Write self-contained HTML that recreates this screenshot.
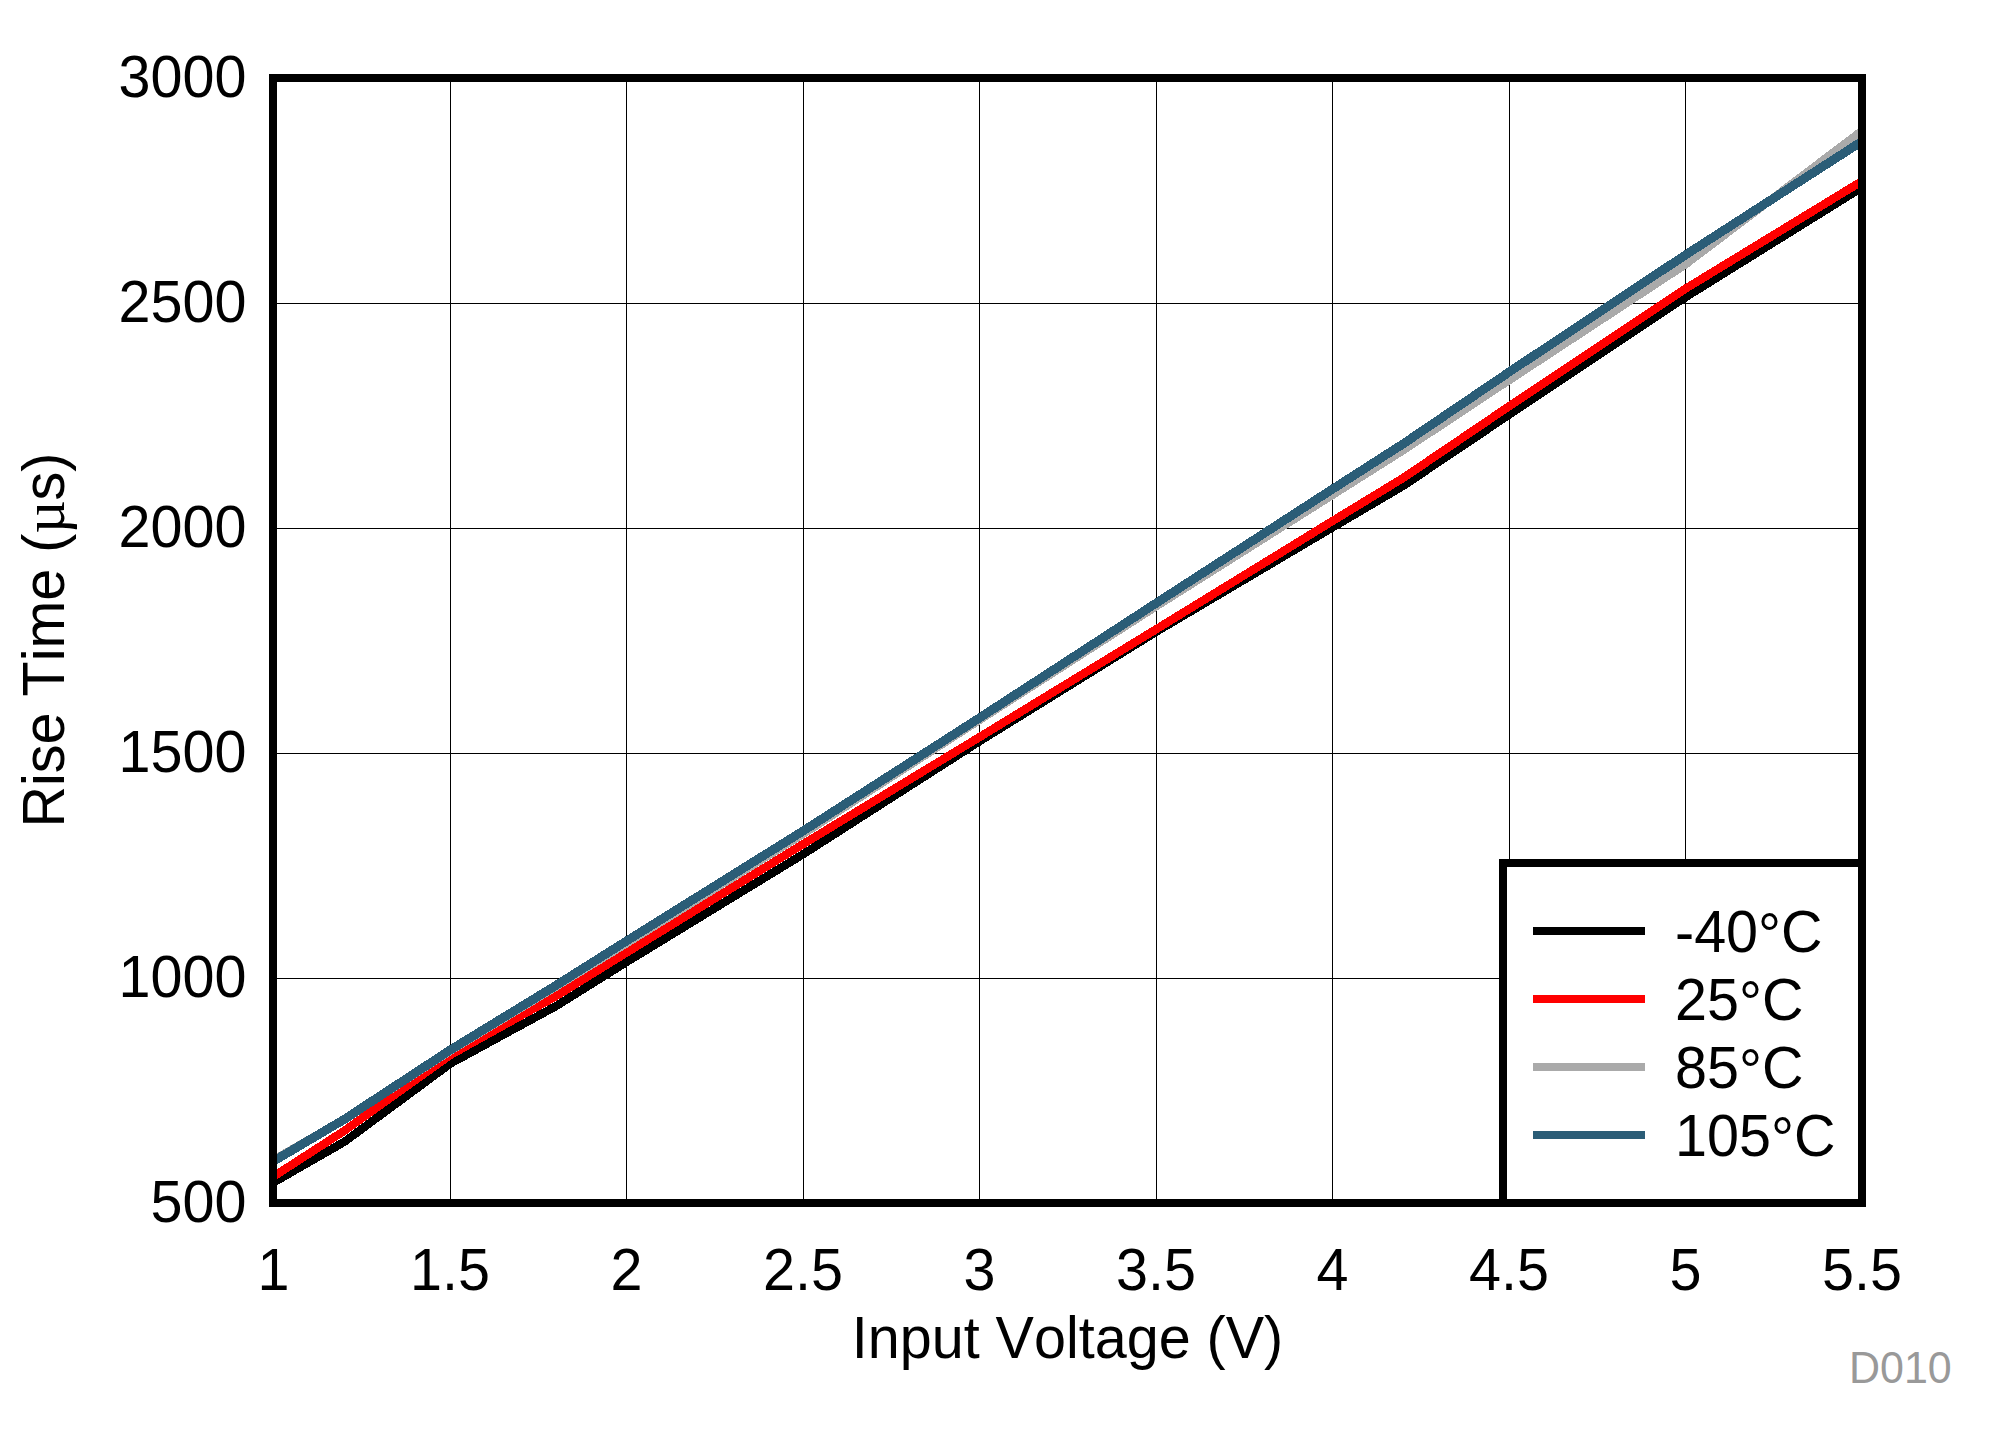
<!DOCTYPE html>
<html lang="en"><head><meta charset="utf-8"><title>Rise Time vs Input Voltage</title>
<style>html,body{margin:0;padding:0;background:#fff;overflow:hidden;}svg{display:block;}text{font-family:"Liberation Sans", Arial, Helvetica, sans-serif;font-size:57.5px;fill:#000;font-kerning:none;}</style>
</head><body>
<svg width="1990" height="1448" viewBox="0 0 1990 1448">
<rect x="0" y="0" width="1990" height="1448" fill="#fff"/>
<g shape-rendering="crispEdges" fill="#000">
<rect x="450" y="78" width="1" height="1125"/>
<rect x="626" y="78" width="1" height="1125"/>
<rect x="803" y="78" width="1" height="1125"/>
<rect x="979" y="78" width="1" height="1125"/>
<rect x="1156" y="78" width="1" height="1125"/>
<rect x="1332" y="78" width="1" height="1125"/>
<rect x="1509" y="78" width="1" height="1125"/>
<rect x="1685" y="78" width="1" height="1125"/>
<rect x="273" y="303" width="1589" height="1"/>
<rect x="273" y="528" width="1589" height="1"/>
<rect x="273" y="753" width="1589" height="1"/>
<rect x="273" y="978" width="1589" height="1"/>
</g>
<defs><clipPath id="pc"><rect x="273" y="78" width="1589" height="1125"/></clipPath></defs>
<g clip-path="url(#pc)" fill="none" stroke-width="8.3" stroke-linejoin="round" shape-rendering="crispEdges">
<polyline stroke="#000000" points="273.5,1182.50 344.5,1141.70 450.5,1063.50 556.0,1006.10 626.5,962.10 803.5,854.00 979.5,741.30 1156.5,631.60 1332.5,527.40 1403.3,485.80 1509.5,414.40 1685.5,297.20 1862.0,187.45"/>
<polyline stroke="#ff0000" points="273.5,1176.50 344.5,1130.70 450.5,1054.90 556.0,996.15 626.5,952.60 803.5,843.90 979.5,737.10 1156.5,629.05 1332.5,521.00 1403.3,477.90 1509.5,406.00 1685.5,288.70 1862.0,181.10"/>
<polyline stroke="#aaaaaa" points="273.5,1160.00 344.5,1119.30 450.5,1050.70 556.0,986.60 626.5,943.30 803.5,833.70 979.5,720.00 1156.5,606.10 1332.5,494.90 1403.3,450.20 1509.5,379.90 1685.5,264.35 1862.0,130.80"/>
<polyline stroke="#2b5d77" stroke-width="8.9" points="273.5,1161.20 344.5,1119.20 450.5,1049.80 556.0,985.40 626.5,941.00 803.5,830.70 979.5,717.90 1156.5,602.90 1332.5,489.10 1403.3,443.75 1509.5,371.80 1685.5,254.90 1862.0,141.35"/>
</g>
<g shape-rendering="crispEdges">
<rect x="1499" y="859" width="367" height="348" fill="#000"/>
<rect x="1507" y="867" width="351" height="332" fill="#fff"/>
<rect x="1533" y="927" width="112" height="8" fill="#000000"/>
<rect x="1533" y="995" width="112" height="8" fill="#ff0000"/>
<rect x="1533" y="1063" width="112" height="8" fill="#aaaaaa"/>
<rect x="1533" y="1131" width="112" height="8" fill="#2b5d77"/>
<rect x="269" y="74" width="8" height="1133" fill="#000"/>
<rect x="1858" y="74" width="8" height="1133" fill="#000"/>
<rect x="269" y="74" width="1597" height="8" fill="#000"/>
<rect x="269" y="1199" width="1597" height="8" fill="#000"/>
</g>
<text transform="translate(1675.0,952.0) scale(1,1.03)">-40<tspan dy="2.9">°</tspan><tspan dy="-2.9">C</tspan></text>
<text transform="translate(1675.0,1020.0) scale(1,1.03)">25<tspan dy="2.9">°</tspan><tspan dy="-2.9">C</tspan></text>
<text transform="translate(1675.0,1088.0) scale(1,1.03)">85<tspan dy="2.9">°</tspan><tspan dy="-2.9">C</tspan></text>
<text transform="translate(1675.0,1156.0) scale(1,1.03)">105<tspan dy="2.9">°</tspan><tspan dy="-2.9">C</tspan></text>
<text transform="translate(246.5,97.0) scale(1,1.03)" text-anchor="end">3000</text>
<text transform="translate(246.5,321.9) scale(1,1.03)" text-anchor="end">2500</text>
<text transform="translate(246.5,546.8) scale(1,1.03)" text-anchor="end">2000</text>
<text transform="translate(246.5,771.7) scale(1,1.03)" text-anchor="end">1500</text>
<text transform="translate(246.5,996.6) scale(1,1.03)" text-anchor="end">1000</text>
<text transform="translate(246.5,1221.5) scale(1,1.03)" text-anchor="end">500</text>
<text transform="translate(273.5,1290.0) scale(1,1.03)" text-anchor="middle">1</text>
<text transform="translate(450.0,1290.0) scale(1,1.03)" text-anchor="middle">1.5</text>
<text transform="translate(626.5,1290.0) scale(1,1.03)" text-anchor="middle">2</text>
<text transform="translate(803.0,1290.0) scale(1,1.03)" text-anchor="middle">2.5</text>
<text transform="translate(979.5,1290.0) scale(1,1.03)" text-anchor="middle">3</text>
<text transform="translate(1156.0,1290.0) scale(1,1.03)" text-anchor="middle">3.5</text>
<text transform="translate(1332.5,1290.0) scale(1,1.03)" text-anchor="middle">4</text>
<text transform="translate(1509.0,1290.0) scale(1,1.03)" text-anchor="middle">4.5</text>
<text transform="translate(1685.5,1290.0) scale(1,1.03)" text-anchor="middle">5</text>
<text transform="translate(1862.0,1290.0) scale(1,1.03)" text-anchor="middle">5.5</text>
<text transform="translate(1067.5,1357.7) scale(1,1.04)" text-anchor="middle">Input Voltage (V)</text>
<text transform="translate(63.8,640) rotate(-90) scale(1,1.04)" text-anchor="middle">Rise Time (<tspan font-family='"Liberation Serif", "DejaVu Serif", serif'>µ</tspan>s)</text>
<text transform="translate(1849.0,1382.7) scale(1,1.03)" style="font-size:43px;fill:#999999">D010</text>
</svg>
</body></html>
